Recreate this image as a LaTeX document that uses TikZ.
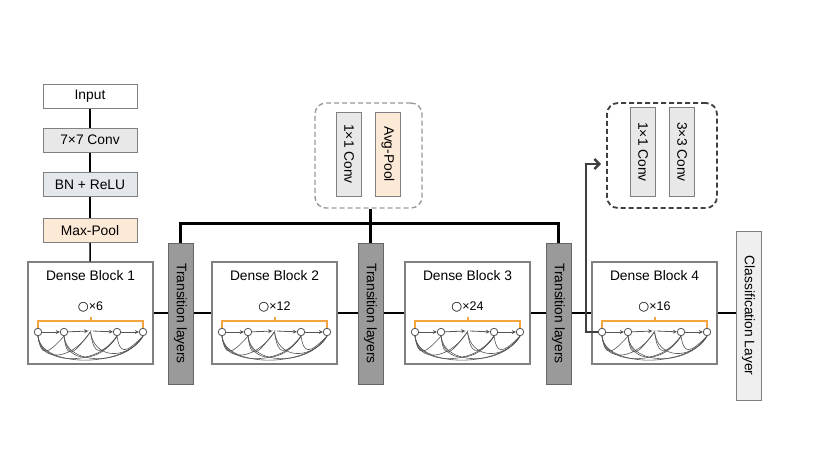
\documentclass[tikz,border=0pt]{standalone}
\usepackage{fontspec}
\setmainfont{Liberation Sans}
\newfontfamily\symfont{DejaVu Sans}
\usepackage{xcolor}
\usetikzlibrary{arrows.meta,calc}
\definecolor{DNBorder}{HTML}{808080}
\definecolor{DNLight} {HTML}{E8E8E8}
\definecolor{DNBlue}  {HTML}{E4E8EC}
\definecolor{DNPeach} {HTML}{FCE9D6}
\definecolor{DNTrans} {HTML}{9A9A9A}
\definecolor{DNDark}  {HTML}{404040}
\definecolor{DNClass} {HTML}{EFEFEF}
\definecolor{DNOrange}{HTML}{F5A540}
\definecolor{DNEdge}  {HTML}{555555}

\begin{document}
\begin{tikzpicture}[x=1pt,y=1pt,
    lbl/.style={font=\fontsize{13.8}{16}\selectfont},
    stembox/.style={draw=DNBorder,line width=1pt,minimum width=94pt,minimum height=24pt,inner sep=0pt,lbl},
    dblock/.style={draw=DNBorder,line width=1.2pt,minimum width=125pt,minimum height=102pt,inner sep=0pt},
    tlayer/.style={draw=DNDark!80,fill=DNTrans,line width=1pt,minimum width=25pt,minimum height=141pt,inner sep=0pt,lbl},
    minibox/.style={draw=DNBorder,line width=1pt,minimum width=25pt,minimum height=84pt,inner sep=0pt,lbl},
    unit/.style={circle,draw=DNEdge,fill=white,line width=0.8pt,minimum size=7.5pt,inner sep=0pt},
    conn/.style={line width=1.6pt,black},
    bus/.style={line width=2.4pt,black},
    flow/.style={draw=DNEdge,line width=0.8pt,-{Stealth[length=4pt,width=4pt]}},
    curve/.style={draw=DNEdge,line width=0.6pt},
    bracket/.style={draw=DNOrange,line width=2pt},
    dashbox/.style={dash pattern=on 5pt off 3pt,rounded corners=11pt,minimum height=105pt}]
  \useasboundingbox (0,0) rectangle (830,467);
  % Stem
  \node[stembox]               (input)   at (90,370.5) {Input};
  \node[stembox,fill=DNLight]  (conv7)   at (90,327)   {7×7 Conv};
  \node[stembox,fill=DNBlue]   (bnrelu)  at (90,282.5) {BN + ReLU};
  \node[stembox,fill=DNPeach]  (maxpool) at (90,236.5) {Max-Pool};
  % Dense blocks
  \foreach \i/\cx/\k in {1/90.5/6,2/274.5/12,3/467.5/24,4/654.5/16}{
    \node[dblock] (db\i) at (\cx,154) {};
    \node[lbl] (dt\i) at (\cx,191) {Dense Block \i};
    \node[font=\fontsize{12.5}{14}\selectfont,inner sep=0pt] (dk\i) at (\cx,160) {{\symfont ○}×\k};
    \draw[bracket] (\cx-52.5,139) -- (\cx-52.5,146) -- (\cx+52.5,146) -- (\cx+52.5,139)
                   (\cx,146) -- (\cx,150);
    \foreach \j/\dx in {1/-52.5,2/-26.5,3/26.5,4/52.5}
      \node[unit] (n\i-\j) at (\cx+\dx,135) {};
    \node[font=\tiny,inner sep=0pt,text=DNEdge] (n\i-m) at (\cx,136) {...};
    \foreach \a/\b/\d in {1/m/28,1/3/30,1/4/32,2/m/24,2/3/28,2/4/30,m/4/26,1/2/20,m/3/22,3/4/18}
      \draw[curve] (n\i-\a.south) .. controls +(3,-\d) and +(-18,-\d) .. (n\i-\b.south);
    \draw[flow] (n\i-1) -- (n\i-2);
    \draw[flow] (n\i-2) -- (n\i-m.west);
    \draw[flow] (n\i-m.east) -- (n\i-3);
    \draw[flow] (n\i-3) -- (n\i-4);
  }
  % Transition layers and classifier
  \foreach \i/\cx in {1/180.5,2/370.5,3/558.5}
    \node[tlayer] (tl\i) at (\cx,153.5) {\rotatebox{-90}{Transition layers}};
  \node[tlayer,fill=DNClass,draw=DNBorder,minimum height=169pt] (cls) at (748.5,151.5)
    {\rotatebox{-90}{Classification Layer}};
  % Inner structure of transition and dense layers
  \node[dashbox,draw=DNBorder!80,line width=1.4pt,minimum width=107pt] (tbox) at (368.5,311.5) {};
  \node[minibox,fill=DNLight] (tconv) at (349,313) {\rotatebox{-90}{1×1 Conv}};
  \node[minibox,fill=DNPeach] (tpool) at (388,313) {\rotatebox{-90}{Avg-Pool}};
  \node[dashbox,draw=DNDark,line width=1.8pt,minimum width=110pt] (lbox) at (662,311.5) {};
  \node[minibox,fill=DNLight,minimum height=88pt] (lconv1) at (643,315) {\rotatebox{-90}{1×1 Conv}};
  \node[minibox,fill=DNLight,minimum height=88pt] (lconv3) at (682,315) {\rotatebox{-90}{3×3 Conv}};
  % Connectors
  \draw[conn] (input) -- (conv7);
  \draw[conn] (conv7) -- (bnrelu);
  \draw[conn] (bnrelu) -- (maxpool);
  \draw[conn] (maxpool) -- (db1);
  \draw[conn] (db1.east) -- (db1.east -| tl1.west);
  \draw[conn] (tl1.east |- db2.west) -- (db2.west);
  \draw[conn] (db2.east) -- (db2.east -| tl2.west);
  \draw[conn] (tl2.east |- db3.west) -- (db3.west);
  \draw[conn] (db3.east) -- (db3.east -| tl3.west);
  \draw[conn] (tl3.east |- db4.west) -- (db4.west);
  \draw[conn] (db4.east) -- (db4.east -| cls.west);
  \draw[bus] (tl1.north) -- ++(0,19) -| (tl3.north);
  \draw[bus] (tl2.north) -- (tl2.north |- tbox.south);
  \coordinate (tip) at (601,303);
  \draw[draw=DNDark,line width=2.4pt,-{Straight Barb[length=5pt,width=10pt]}]
    (n4-1.west) -| ($(tip)+(-15,0)$) -- (tip);
\end{tikzpicture}
\end{document}
